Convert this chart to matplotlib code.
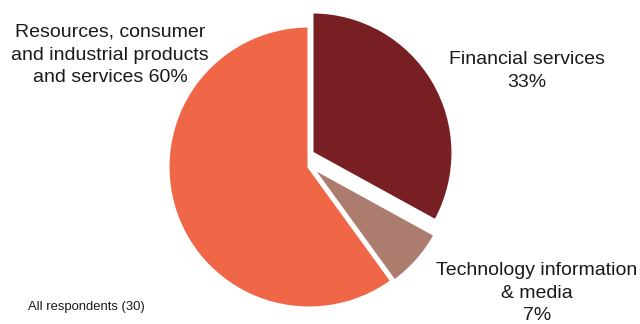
import matplotlib
matplotlib.use("Agg")
import matplotlib.pyplot as plt

categories = ["Financial services", "Technology information\n& media", "Resources, consumer\nand industrial products\nand services"]
values = [33, 7, 60]
colors = ["#781F24", "#AC7C6E", "#F06748"]
footnote = "All respondents (30)"

plt.rcParams['font.family'] = ['Liberation Sans', 'DejaVu Sans']

W, H = 640, 324
fig = plt.figure(figsize=(W / 100, H / 100), dpi=100)
ax = fig.add_axes([0, 0, 1, 1])

cx, cy, r = 309, 167, 141
wedges, _ = ax.pie(values, colors=colors, startangle=90, counterclock=False,
                   radius=1.0, wedgeprops=dict(edgecolor="white", linewidth=2.2))
# slight offsets of the separated slices
wedges[0].set_center((0.021, 0.10))
wedges[1].set_center((0.018, 0.0))

ax.set_aspect('auto')
ax.set_xlim(-cx / r, (W - cx) / r)
ax.set_ylim(-(H - cy) / r, cy / r)
ax.axis('off')

def px(x, y):
    return ((x - cx) / r, (cy - y) / r)

txtc = "#1a1a1a"
fs = 14
ax.text(*px(527, 71), f"{categories[0]}\n{values[0]}%", ha="center", va="center",
        fontsize=fs, color=txtc, linespacing=1.45)
ax.text(*px(537, 293), f"{categories[1]}\n{values[1]}%", ha="center", va="center",
        fontsize=fs, color=txtc, linespacing=1.4)
ax.text(*px(110, 55), f"{categories[2]} {values[2]}%", ha="center", va="center",
        fontsize=fs, color=txtc, linespacing=1.45)
ax.text(*px(28, 307), footnote, ha="left", va="center", fontsize=9.4, color=txtc)

fig.savefig("out.png", dpi=100)
